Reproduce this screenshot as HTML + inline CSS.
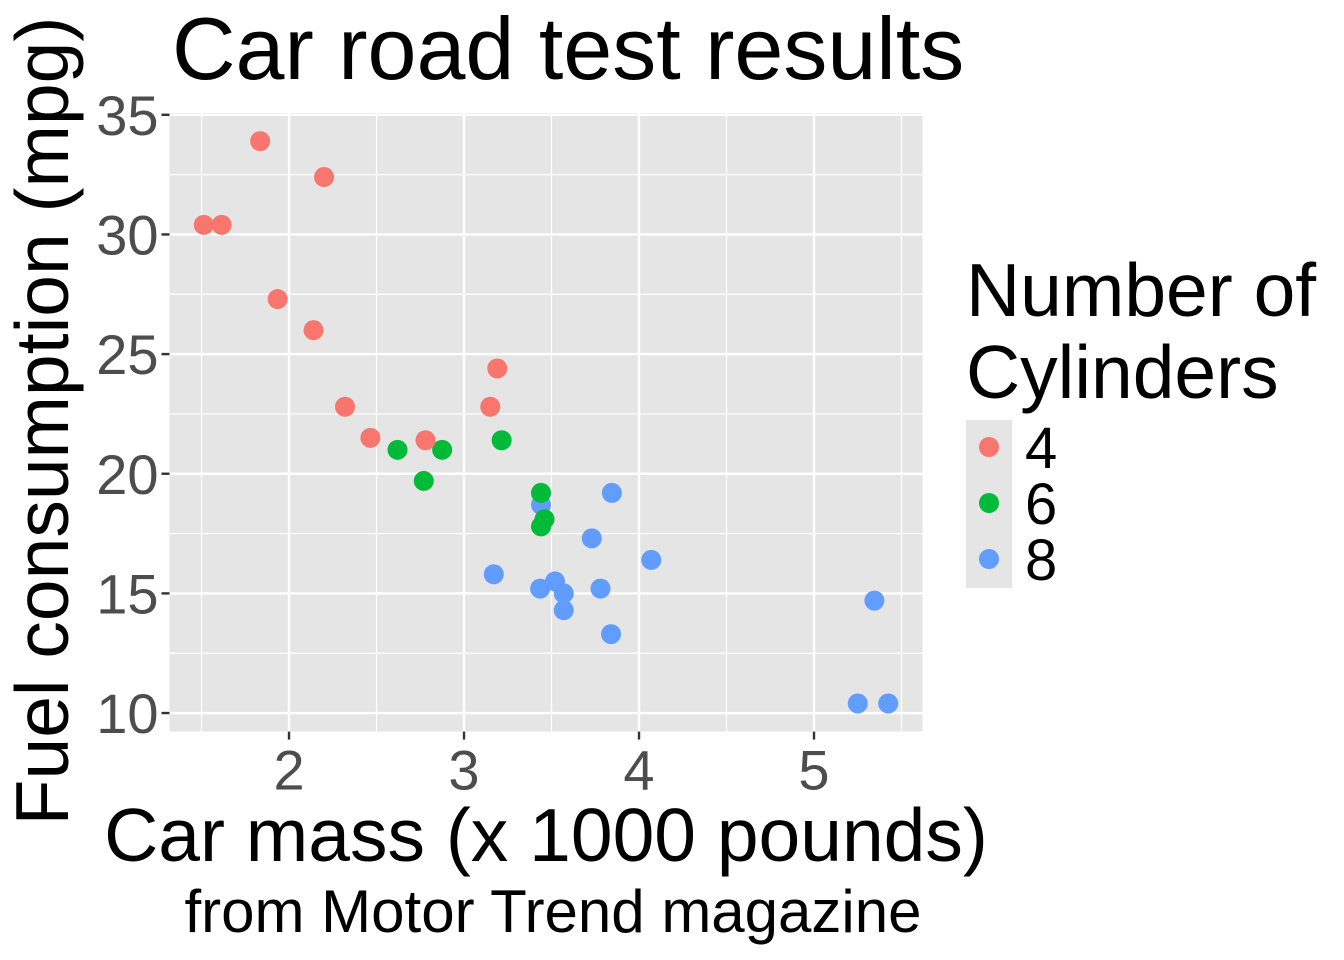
<!DOCTYPE html>
<html><head><meta charset="utf-8"><style>
body{margin:0;background:#fff}
svg{display:block;font-family:"Liberation Sans",Arial,sans-serif}
</style></head><body>
<svg id="chart" width="1344" height="960">
<rect width="1344" height="960" fill="#fff"/>
</svg>
<script>
const wt=[2.620,2.875,2.320,3.215,3.440,3.460,3.570,3.190,3.150,3.440,3.440,4.070,3.730,3.780,5.250,5.424,5.345,2.200,1.615,1.835,2.465,3.520,3.435,3.840,3.845,1.935,2.140,1.513,3.170,2.770,3.570,2.780];
const mpg=[21.0,21.0,22.8,21.4,18.7,18.1,14.3,24.4,22.8,19.2,17.8,16.4,17.3,15.2,10.4,10.4,14.7,32.4,30.4,33.9,21.5,15.5,15.2,13.3,19.2,27.3,26.0,30.4,15.8,19.7,15.0,21.4];
const cyl=[6,6,4,6,8,6,8,4,4,6,6,8,8,8,8,8,8,4,4,4,4,8,8,8,8,4,4,4,8,6,8,4];
const xTicks=[2,3,4,5];
const yTicks=[10,15,20,25,30,35];
const cylLevels=[4,6,8];
const colors={4:"#F8766D",6:"#00BA38",8:"#619CFF"};
const NS="http://www.w3.org/2000/svg";
const svg=document.getElementById('chart');
const L=169.5,R=922.5,T=113,B=731.6;
const x0=1.317,x1=5.62,y0=9.225,y1=35.075;
const sx=v=>L+(v-x0)/(x1-x0)*(R-L);
const sy=v=>B-(v-y0)/(y1-y0)*(B-T);
function mk(tag,attrs,parent){const e=document.createElementNS(NS,tag);for(const k in attrs)e.setAttribute(k,attrs[k]);(parent||svg).appendChild(e);return e;}
const panel=mk('rect',{x:L,y:T,width:R-L,height:B-T,fill:'#E5E5E5'});


for(let i=0;i<xTicks.length+1;i++){const v=xTicks[0]-0.5+i;if(v<x0||v>x1)continue;mk('line',{x1:sx(v),x2:sx(v),y1:T,y2:B,stroke:'#fff','stroke-width':1.2});}
for(let i=0;i<yTicks.length-1;i++){const v=yTicks[i]+2.5;mk('line',{x1:L,x2:R,y1:sy(v),y2:sy(v),stroke:'#fff','stroke-width':1.2});}
xTicks.forEach(v=>{
  mk('line',{x1:sx(v),x2:sx(v),y1:T,y2:B,stroke:'#fff','stroke-width':2.4});
  mk('line',{x1:sx(v),x2:sx(v),y1:B,y2:B+8,stroke:'#333','stroke-width':2.4});
  const t=mk('text',{x:sx(v),y:B+58,'text-anchor':'middle','font-size':56,fill:'#4D4D4D'});t.textContent=v;
  
  
});
yTicks.forEach(v=>{
  mk('line',{x1:L,x2:R,y1:sy(v),y2:sy(v),stroke:'#fff','stroke-width':2.4});
  mk('line',{x1:L-8,x2:L,y1:sy(v),y2:sy(v),stroke:'#333','stroke-width':2.4});
  const t=mk('text',{x:L-11,y:sy(v)+20,'text-anchor':'end','font-size':56,fill:'#4D4D4D'});t.textContent=v;
  
  
});
wt.forEach((w,i)=>{
  const c=mk('circle',{cx:sx(w),cy:sy(mpg[i]),r:10,fill:colors[cyl[i]]});
  
  
});
function txt(s,a,name){const t=mk('text',a);t.textContent=s;return t;}
txt('Car road test results',{x:172,y:79,'font-size':88},'chart-title');
txt('Car mass (x 1000 pounds)',{x:546,y:861,'text-anchor':'middle','font-size':75},'x-axis-title');
txt('from Motor Trend magazine',{x:553,y:932,'text-anchor':'middle','font-size':60},'caption');
txt('Fuel consumption (mpg)',{x:0,y:0,'text-anchor':'middle','font-size':75,transform:'translate(68,421) rotate(-90)'},'y-axis-title');
txt('Number of',{x:966,y:316,'font-size':75},'legend-title-line1');
txt('Cylinders',{x:966,y:398,'font-size':75},'legend-title-line2');
const lb=mk('rect',{x:966,y:420,width:46,height:168,fill:'#E5E5E5'});


cylLevels.forEach((c,i)=>{
  const y=447+i*56;
  const k=mk('circle',{cx:989,cy:y,r:10,fill:colors[c]});
  
  
  txt(String(c),{x:1025,y:y+21,'font-size':58},'legend-label-'+c);
});
</script>
</body></html>
